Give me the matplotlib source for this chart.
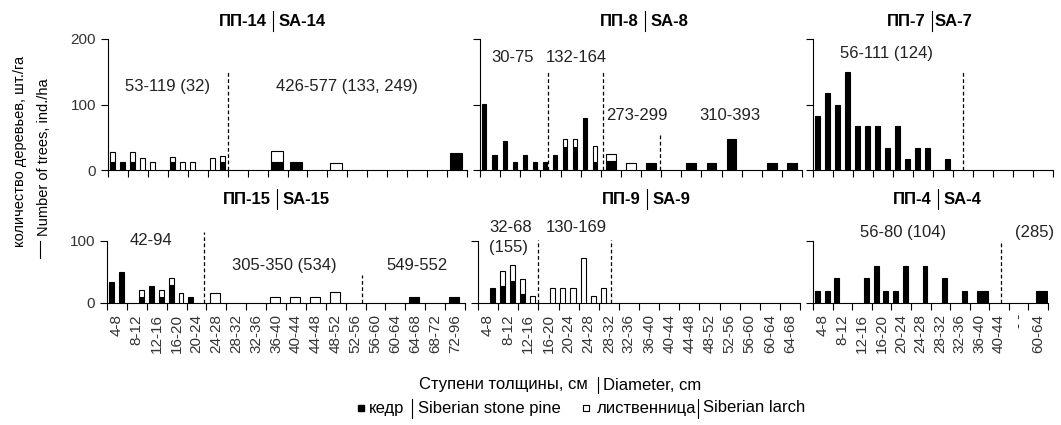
import numpy as np
import matplotlib.pyplot as plt
from matplotlib.lines import Line2D

plt.rcParams["font.family"] = ["Liberation Sans", "DejaVu Sans"]

W, H = 1061, 425

# --- ступени толщины ---
cats_long = ["4-8", "8-12", "12-16", "16-20", "20-24", "24-28", "28-32", "32-36", "36-40",
             "40-44", "44-48", "48-52", "52-56", "56-60", "60-64", "64-68", "68-72", "72-96"]
cats_mid = cats_long[:16]
cats_short = cats_long[:10] + ["- -", "60-64"]

# --- данные (шт./га): fine = по 2 значения на ступень, wide = по 1 на ступень ---
# ПП-14
pp14_pine_fine = [12, 12, 12, 0, 0, 0, 12, 0, 0, 0, 0, 12]
pp14_larch_fine = [16, 0, 16, 18, 12, 0, 8, 12, 12, 0, 18, 9]
pp14_pine_wide = [0, 0, 0, 0, 0, 0, 0, 0, 12, 12, 0, 0, 0, 0, 0, 0, 0, 26]
pp14_larch_wide = [0, 0, 0, 0, 0, 0, 0, 0, 17, 0, 0, 10, 0, 0, 0, 0, 0, 0]
# ПП-8
pp8_pine_fine = [101, 23, 45, 12, 23, 12, 12, 23, 35, 35, 79, 12]
pp8_larch_fine = [0, 0, 0, 0, 0, 0, 0, 0, 12, 12, 0, 25]
pp8_pine_wide = [0, 0, 0, 0, 0, 0, 13, 0, 11, 0, 11, 11, 48, 0, 11, 11]
pp8_larch_wide = [0, 0, 0, 0, 0, 0, 12, 11, 0, 0, 0, 0, 0, 0, 0, 0]
# ПП-7
pp7_pine_fine = [83, 117, 100, 150, 67, 67, 67, 33, 67, 17, 33, 33, 0, 17]
pp7_larch_fine = [0] * 14
# ПП-15
pp15_pine_fine = [34, 50, 0, 10, 27, 10, 29, 0, 9, 0]
pp15_larch_fine = [0, 0, 0, 11, 0, 11, 11, 16, 0, 0]
pp15_pine_wide = [0, 0, 0, 0, 0, 0, 0, 0, 0, 0, 0, 0, 0, 0, 0, 9, 0, 9]
pp15_larch_wide = [0, 0, 0, 0, 0, 16, 0, 0, 9, 9, 9, 17, 0, 0, 0, 0, 0, 0]
# ПП-9
pp9_pine_fine = [0, 25, 27, 36, 14, 0, 0, 0, 0, 0, 0, 0, 0, 0]
pp9_larch_fine = [0, 0, 25, 25, 25, 12, 0, 25, 25, 25, 72, 12, 25, 0]
# ПП-4
pp4_pine_fine = [20, 20, 40, 0, 0, 40, 60, 20, 20, 60, 0, 60, 0, 40, 0, 20]
pp4_larch_fine = [0] * 16
pp4_pine_wide = [0, 0, 0, 0, 0, 0, 0, 0, 20, 0, 0, 20]
pp4_larch_wide = [0] * 12


def fx(x):
    return x / W


def fy(y):
    return 1 - y / H


fig = plt.figure(figsize=(W / 100, H / 100), dpi=100)


def split_text(xb, y, left, right, size=12, weight="normal", gl=6, gr=6, bh=20):
    fig.text(fx(xb - gl), fy(y), left, ha="right", va="center", fontsize=size, fontweight=weight)
    fig.text(fx(xb + gr), fy(y), right, ha="left", va="center", fontsize=size, fontweight=weight)
    fig.add_artist(Line2D([fx(xb)] * 2, [fy(y - bh / 2), fy(y + bh / 2)], color="black", lw=0.8))


def draw_bars(ax, pine, larch, xs, width):
    pine = np.asarray(pine, float)
    larch = np.asarray(larch, float)
    xs = np.asarray(xs, float)
    m = pine > 0
    ax.bar(xs[m], pine[m], width, color="black", edgecolor="black", linewidth=0.8, zorder=3)
    m = larch > 0
    ax.bar(xs[m], larch[m], width, bottom=pine[m], color="white", edgecolor="black",
           linewidth=0.8, zorder=3)


def make_panel(box, cats, ymax, fine, wide=None, fine_w=0.25, wide_off=0.45, wide_w=0.55,
               dashes=(), notes=(), labels=False, ylabels=False):
    l, t, r, b = box
    ax = fig.add_axes([fx(l), fy(b), (r - l) / W, (b - t) / H])
    n = len(cats)
    pine, larch = fine
    slots = np.arange(len(pine))
    draw_bars(ax, pine, larch, slots * 0.5 + 0.22, fine_w)
    if wide is not None:
        draw_bars(ax, wide[0], wide[1], np.arange(n) + wide_off, wide_w)
    for xd, ytop in dashes:
        ax.plot([xd, xd], [0, ytop], color="black", lw=0.9, ls=(0, (3, 2)), clip_on=False)
    for xt, yt, s in notes:
        ax.text(xt, yt, s, ha="center", va="center", fontsize=12, color="#222")
    ax.set_xlim(0, n)
    ax.set_ylim(0, ymax)
    ax.spines[["top", "right"]].set_visible(False)
    ax.spines[["left", "bottom"]].set_linewidth(0.8)
    ax.set_xticks(np.arange(n + 1))
    ax.set_xticklabels([])
    ax.set_yticks(np.arange(0, ymax + 1, 100))
    ax.tick_params(which="major", direction="out", length=5, width=0.8, labelsize=11,
                   labelcolor="#333", labelleft=ylabels)
    if labels:
        ax.set_xticks(np.arange(n) + 0.5, minor=True)
        ax.set_xticklabels(cats, minor=True, rotation=90)
        ax.tick_params(which="minor", length=0, pad=8, labelsize=11, labelcolor="#333")
    return ax


# --- верхний ряд ---
make_panel((108, 39, 467, 170), cats_long, 200,
           (pp14_pine_fine, pp14_larch_fine), (pp14_pine_wide, pp14_larch_wide),
           wide_off=0.45, wide_w=0.6,
           dashes=[(6.0, 151)],
           notes=[(3.0, 127, "53-119 (32)"), (12.0, 127, "426-577 (133, 249)")],
           ylabels=True)
make_panel((480, 39, 802, 170), cats_mid, 200,
           (pp8_pine_fine, pp8_larch_fine), (pp8_pine_wide, pp8_larch_wide),
           fine_w=0.2, wide_off=0.5, wide_w=0.48,
           dashes=[(3.4, 153), (6.1, 153), (8.95, 55)],
           notes=[(1.64, 171, "30-75"), (4.78, 171, "132-164"),
                  (7.8, 83, "273-299"), (12.4, 83, "310-393")])
make_panel((813, 39, 1053, 170), cats_short, 200,
           (pp7_pine_fine, pp7_larch_fine), fine_w=0.28,
           dashes=[(7.5, 151)],
           notes=[(3.7, 178, "56-111 (124)")])

# --- нижний ряд ---
make_panel((107, 241, 465, 303), cats_long, 100,
           (pp15_pine_fine, pp15_larch_fine), (pp15_pine_wide, pp15_larch_wide),
           wide_off=0.45, wide_w=0.5,
           dashes=[(4.9, 115), (12.8, 45)],
           notes=[(2.2, 100, "42-94"), (8.9, 60, "305-350 (534)"), (15.6, 60, "549-552")],
           labels=True, ylabels=True)
make_panel((478, 241, 800, 303), cats_mid, 100,
           (pp9_pine_fine, pp9_larch_fine),
           dashes=[(3.0, 102), (6.6, 102)],
           notes=[(1.6, 121, "32-68"), (1.5, 90, "(155)"), (4.9, 121, "130-169")],
           labels=True)
make_panel((813, 241, 1048, 303), cats_short, 100,
           (pp4_pine_fine, pp4_larch_fine), (pp4_pine_wide, pp4_larch_wide),
           wide_off=0.65, wide_w=0.56,
           dashes=[(9.6, 98)],
           notes=[(4.6, 113, "56-80 (104)"), (11.3, 113, "(285)")],
           labels=True)

# --- заголовки площадок ---
split_text(273, 21, "ПП-14", "SA-14", weight="bold")
split_text(645, 21, "ПП-8", "SA-8", weight="bold")
split_text(932, 21, "ПП-7", "SA-7", weight="bold", gr=3)
split_text(277, 199, "ПП-15", "SA-15", weight="bold")
split_text(647, 199, "ПП-9", "SA-9", weight="bold")
split_text(938, 199, "ПП-4", "SA-4", weight="bold")

# --- подписи осей ---
fig.text(fx(20), fy(151), "количество деревьев, шт./га", rotation=90,
         ha="center", va="center", fontsize=10.5)
fig.text(fx(44), fy(157), "Number of trees, ind./ha", rotation=90,
         ha="center", va="center", fontsize=10.5)
fig.add_artist(Line2D([fx(40)] * 2, [fy(241), fy(258)], color="black", lw=0.8))

split_text(598, 385, "Ступени толщины, см", "Diameter, cm", gl=10, gr=5, bh=16)

# --- легенда ---
fig.add_artist(Line2D([fx(361)], [fy(408)], marker="s", ms=5, color="black", lw=0))
fig.text(fx(369), fy(408), "кедр", ha="left", va="center", fontsize=12)
split_text(412, 408, "", "Siberian stone pine", gr=6, bh=19)
fig.add_artist(Line2D([fx(586)], [fy(408)], marker="s", ms=5, markerfacecolor="white",
                      markeredgecolor="black", markeredgewidth=0.8, lw=0))
fig.text(fx(597), fy(408), "лиственница", ha="left", va="center", fontsize=12)
split_text(698, 408, "", "Siberian larch", gr=5, bh=19)

fig.savefig("out.png", dpi=100)
